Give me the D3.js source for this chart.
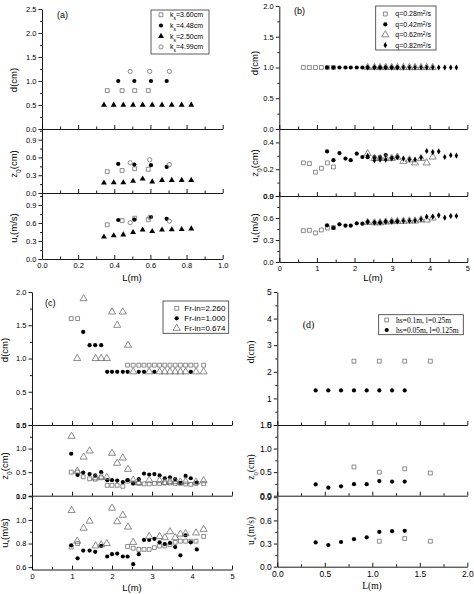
<!DOCTYPE html>
<html>
<head>
<meta charset="utf-8">
<script src="https://cdn.jsdelivr.net/npm/d3@7"></script>
<style>
  body { margin: 0; background: #fff; }
  svg { display: block; }
</style>
</head>
<body>
<svg id="chart" width="474" height="594"></svg>
<script>
// ---- panel (a): roughness height ks ----
const aL_ks360 = [0.361, 0.443, 0.513, 0.588];
const aD_ks360 = [0.8, 0.8, 0.8, 0.8];
const aZ_ks360 = [0.36, 0.38, 0.41, 0.40];
const aU_ks360 = [0.57, 0.64, 0.68, 0.655];
const aL_ks448 = [0.422, 0.511, 0.603, 0.690];
const aD_ks448 = [1.0, 1.0, 1.0, 1.0];
const aZ_ks448 = [0.49, 0.48, 0.47, 0.44];
const aU_ks448 = [0.65, 0.655, 0.70, 0.67];
const aL_ks250 = [0.343, 0.397, 0.450, 0.504, 0.557, 0.610, 0.664, 0.718, 0.773, 0.826];
const aD_ks250 = [0.5, 0.5, 0.5, 0.5, 0.5, 0.5, 0.5, 0.5, 0.5, 0.5];
const aZ_ks250 = [0.17, 0.175, 0.175, 0.20, 0.24, 0.19, 0.215, 0.215, 0.215, 0.215];
const aU_ks250 = [0.37, 0.39, 0.405, 0.445, 0.485, 0.46, 0.485, 0.49, 0.495, 0.505];
const aL_ks499 = [0.488, 0.596, 0.705];
const aD_ks499 = [1.2, 1.2, 1.2];
const aZ_ks499 = [0.51, 0.56, 0.48];
const aU_ks499 = [0.605, 0.695, 0.63];

// ---- panel (b): discharge q ----
const bL_q028 = [0.64, 0.80, 0.96, 1.12, 1.28, 1.44];
const bD_q028 = [1, 1, 1, 1, 1, 1];
const bZ_q028 = [0.247, 0.242, 0.178, 0.207, 0.247, 0.217];
const bU_q028 = [0.427, 0.432, 0.396, 0.437, 0.464, 0.47];
const bL_q042 = [1.27, 1.44, 1.60, 1.76, 1.90, 2.06, 2.21, 2.35, 2.53, 2.68, 2.83, 2.99, 3.14];
const bD_q042 = [1, 1, 1, 1, 1, 1, 1, 1, 1, 1, 1, 1, 1];
const bZ_q042 = [0.333, 0.267, 0.32, 0.279, 0.267, 0.316, 0.291, 0.29, 0.29, 0.29, 0.306, 0.286, 0.291];
const bU_q042 = [0.50, 0.464, 0.514, 0.495, 0.495, 0.528, 0.523, 0.546, 0.537, 0.537, 0.55, 0.55, 0.555];
const bL_q062 = [2.35, 2.53, 2.68, 2.83, 2.99, 3.14, 3.30, 3.46, 3.61, 3.77, 3.92, 4.08];
const bD_q062 = [1, 1, 1, 1, 1, 1, 1, 1, 1, 1, 1, 1];
const bZ_q062 = [0.316, 0.28, 0.28, 0.28, 0.28, 0.29, 0.259, 0.27, 0.247, 0.28, 0.247, 0.291];
const bU_q062 = [0.54, 0.535, 0.535, 0.545, 0.55, 0.555, 0.555, 0.56, 0.56, 0.575, 0.573, 0.60];
const bL_q082 = [2.35, 2.53, 2.68, 2.83, 2.99, 3.14, 3.30, 3.46, 3.61, 3.77, 3.92, 4.08, 4.24, 4.40, 4.56, 4.71];
const bD_q082 = [1, 1, 1, 1, 1, 1, 1, 1, 1, 1, 1, 1, 1, 1, 1, 1];
const bZ_q082 = [0.30, 0.267, 0.272, 0.272, 0.28, 0.29, 0.279, 0.272, 0.272, 0.286, 0.336, 0.328, 0.333, 0.291, 0.304, 0.301];
const bU_q082 = [0.546, 0.537, 0.537, 0.55, 0.55, 0.555, 0.56, 0.56, 0.564, 0.582, 0.618, 0.618, 0.636, 0.605, 0.627, 0.627];

// ---- panel (c): inflow Froude number ----
const cL_fr226 = [0.98, 1.14, 1.28, 1.44, 1.58, 1.73, 1.88, 2.00, 2.13, 2.27, 2.39, 2.53, 2.67, 2.80, 2.93, 3.06, 3.19, 3.32, 3.45, 3.58, 3.71, 3.84, 3.97, 4.10, 4.29];
const cD_fr226 = [1.6, 1.6, null, null, null, null, null, null, null, null, 0.9, 0.9, 0.9, 0.9, 0.9, 0.9, 0.9, 0.9, 0.9, 0.9, 0.9, 0.9, 0.9, 0.9, 0.9];
const cZ_fr226 = [0.50, 0.50, 0.40, 0.36, 0.35, 0.38, 0.22, 0.22, 0.22, 0.20, 0.31, 0.27, 0.26, 0.25, 0.25, 0.26, 0.26, 0.27, 0.27, 0.26, 0.26, 0.25, 0.24, 0.26, 0.26];
const cU_fr226 = [0.77, 0.80, null, null, null, null, null, null, null, null, 0.775, 0.76, 0.75, 0.75, 0.75, 0.765, 0.78, 0.78, 0.79, 0.81, 0.82, 0.82, 0.82, 0.82, 0.86];
const cL_fr100 = [0.98, 1.14, 1.28, 1.44, 1.58, 1.73, 1.88, 2.00, 2.13, 2.27, 2.39, 2.53, 2.67, 2.80, 2.93, 3.06, 3.19, 3.32, 3.45, 3.58, 3.71, 3.84, 3.97, 4.12];
const cD_fr100 = [null, null, 1.4, 1.2, 1.2, 1.2, 0.8, 0.8, 0.8, 0.8, 0.8, null, 0.8, 0.8, null, 0.8, null, null, null, null, null, null, 0.8, null];
const cZ_fr100 = [0.89, 0.44, 0.49, 0.46, 0.43, 0.50, 0.33, 0.33, 0.32, 0.29, 0.33, 0.26, 0.35, 0.47, 0.45, 0.46, 0.43, 0.37, 0.39, 0.35, 0.27, 0.42, 0.37, 0.28];
const cU_fr100 = [0.785, 0.675, 0.74, 0.74, 0.73, 0.78, 0.69, 0.71, 0.715, 0.69, 0.69, 0.625, 0.71, 0.83, 0.83, 0.84, 0.81, 0.795, 0.805, 0.77, 0.70, 0.87, 0.81, 0.75];
const cL_fr067 = [0.99, 1.13, 1.29, 1.44, 1.59, 1.73, 1.87, 2.00, 2.13, 2.27, 2.40, 2.53, 2.67, 2.80, 2.93, 3.06, 3.19, 3.32, 3.45, 3.58, 3.71, 3.84, 3.97, 4.10, 4.29];
const cD_fr067 = [null, 1.0, 1.9, null, 1.0, 1.0, 1.0, 1.7, 1.5, 1.7, 1.2, 0.8, null, null, 0.8, null, 0.8, 0.8, 0.8, 0.8, 0.8, 0.8, null, 0.8, 0.8];
const cZ_fr067 = [1.26, 0.52, 0.82, 0.95, 0.38, 0.40, 0.39, 0.90, 0.69, 0.80, 0.56, 0.33, 0.28, null, 0.33, null, 0.32, 0.28, 0.30, 0.30, 0.29, 0.30, null, 0.29, 0.32];
const cU_fr067 = [1.08, 0.82, 0.93, 0.99, 0.78, 0.79, 0.80, 1.10, 0.985, 1.04, 0.94, 0.81, null, null, 0.86, null, 0.86, 0.85, 0.90, 0.85, 0.88, 0.885, null, 0.89, 0.92];

// ---- panel (d): step height / spacing ----
const dL_hs010 = [0.807, 1.074, 1.341, 1.611];
const dD_hs010 = [2.4, 2.4, 2.4, 2.4];
const dZ_hs010 = [0.61, 0.50, 0.57, 0.48];
const dU_hs010 = [null, 0.33, 0.365, 0.33];
const dL_hs005 = [0.404, 0.537, 0.671, 0.807, 0.941, 1.074, 1.208, 1.341];
const dD_hs005 = [1.3, 1.3, 1.3, 1.3, 1.3, 1.3, 1.3, 1.3];
const dZ_hs005 = [0.24, 0.17, 0.20, 0.245, 0.245, 0.31, 0.30, 0.30];
const dU_hs005 = [0.315, 0.28, 0.32, 0.356, 0.38, 0.45, 0.46, 0.465];

const svg = d3.select('#chart');
const GRAY = '#6f6f6f';

// marker styles
const openSquare = { type: d3.symbolSquare, size: 15, fill: 'none', stroke: GRAY };
const dot = { type: d3.symbolCircle, size: 14, fill: '#000', stroke: 'none' };
const tri = { type: d3.symbolTriangle, size: 15, fill: '#000', stroke: 'none' };
const openCircle = { type: d3.symbolCircle, size: 14, fill: 'none', stroke: GRAY };
const openTri = { type: d3.symbolTriangle, size: 22, fill: 'none', stroke: GRAY };
const diamond = { type: d3.symbolDiamond, size: 11, fill: '#000', stroke: 'none' };

function addTitle(g, x, y, main, sub, rest, size) {
  const t = g.append('text')
    .attr('transform', `translate(${x},${y}) rotate(-90)`)
    .attr('text-anchor', 'middle')
    .style('font-size', size + 'px');
  t.append('tspan').text(main);
  if (sub) {
    t.append('tspan').attr('baseline-shift', 'sub').style('font-size', (size * 0.7) + 'px').text(sub);
  }
  t.append('tspan').text(rest);
}

function drawPanel(p) {
  const x = d3.scaleLinear().domain(p.xDomain).range(p.xRange);
  const g = svg.append('g').style('font-family', p.font);
  const x0 = p.xRange[0];

  p.rows.forEach((row, i) => {
    const y = d3.scaleLinear().domain(row.domain).range(row.range);
    const yBase = row.range[0];
    const last = i === p.rows.length - 1;

    // x axis (ticks point into the plot)
    g.append('g').attr('transform', `translate(0,${yBase})`)
      .call(d3.axisBottom(x).tickValues(p.xMinor).tickSize(-2.5).tickSizeOuter(0).tickFormat(''))
      .call(a => a.select('.domain').remove());
    const xa = g.append('g').attr('transform', `translate(0,${yBase})`)
      .call(d3.axisBottom(x).tickValues(p.xTicks).tickSize(-4).tickSizeOuter(0).tickPadding(4)
        .tickFormat(last ? d3.format(p.xFmt) : ''));
    xa.selectAll('text').style('font-size', p.tickSize + 'px').attr('fill', '#000');

    // y axis
    g.append('g').attr('transform', `translate(${x0},0)`)
      .call(d3.axisLeft(y).tickValues(row.minor).tickSize(2).tickSizeOuter(0).tickFormat(''))
      .call(a => a.select('.domain').remove());
    const ya = g.append('g').attr('transform', `translate(${x0},0)`)
      .call(d3.axisLeft(y).tickValues(row.ticks).tickSize(3.5).tickSizeOuter(0).tickPadding(2)
        .tickFormat(d3.format(row.fmt)));
    ya.selectAll('text').style('font-size', p.tickSize + 'px').attr('fill', '#000');

    g.selectAll('.domain, .tick line').attr('stroke', '#000').attr('stroke-width', 0.9);

    // markers
    p.series.forEach(s => {
      const vals = s[row.key];
      const pts = s.L.map((l, k) => [l, vals[k]]).filter(d => d[1] != null);
      g.append('g').selectAll('path').data(pts).join('path')
        .attr('transform', d => `translate(${x(d[0])},${y(d[1])})`)
        .attr('d', d3.symbol().type(s.style.type).size(s.style.size))
        .attr('fill', s.style.fill)
        .attr('stroke', s.style.stroke)
        .attr('stroke-width', 0.8);
    });

    addTitle(g, row.titleX, row.titleY, row.title[0], row.title[1], row.title[2], p.titleSize);
  });

  // x title
  g.append('text').attr('x', p.xTitle[0]).attr('y', p.xTitle[1])
    .attr('text-anchor', 'middle').style('font-size', p.titleSize + 'px').text('L(m)');

  // panel tag
  g.append('text').attr('x', p.tag[0]).attr('y', p.tag[1])
    .style('font-size', p.tagSize + 'px').text(p.tagText);

  // legend
  const lg = p.legend;
  g.append('rect').attr('x', lg.x).attr('y', lg.y).attr('width', lg.w).attr('height', lg.h)
    .attr('fill', '#fff').attr('stroke', '#333').attr('stroke-width', 0.8);
  p.series.forEach((s, k) => {
    const yy = lg.y + lg.first + k * lg.step;
    g.append('path')
      .attr('transform', `translate(${lg.x + lg.symX},${yy})`)
      .attr('d', d3.symbol().type(s.style.type).size(s.style.size))
      .attr('fill', s.style.fill).attr('stroke', s.style.stroke).attr('stroke-width', 0.8);
    const t = g.append('text').attr('x', lg.x + lg.textX).attr('y', yy)
      .attr('dy', '0.35em').style('font-size', lg.size + 'px');
    s.label.forEach(part => {
      const ts = t.append('tspan').text(part.t);
      if (part.sub) ts.attr('baseline-shift', 'sub').style('font-size', (lg.size * 0.7) + 'px');
      if (part.sup) ts.attr('baseline-shift', 'super').style('font-size', (lg.size * 0.7) + 'px');
    });
  });
}

const SANS = '"Liberation Sans", Arial, sans-serif';
const SERIF = '"Liberation Serif", "Times New Roman", serif';

drawPanel({
  font: SANS, tickSize: 7.5, titleSize: 9.5, tagSize: 9, tagText: '(a)', tag: [57, 18],
  xDomain: [0, 1], xRange: [42, 222.7], xTicks: [0, 0.2, 0.4, 0.6, 0.8, 1.0], xMinor: [0.1, 0.3, 0.5, 0.7, 0.9],
  xFmt: '.1f', xTitle: [132, 281],
  rows: [
    { key: 'D', domain: [0, 2.5], range: [129, 9], ticks: [0, 0.5, 1, 1.5, 2, 2.5], minor: [0.25, 0.75, 1.25, 1.75, 2.25], fmt: '.1f', title: ['d(cm)', '', ''], titleX: 17, titleY: 80 },
    { key: 'Z', domain: [0, 1.08], range: [193, 129], ticks: [0, 0.3, 0.6, 0.9], minor: [0.15, 0.45, 0.75, 1.05], fmt: '.1f', title: ['z', '0', '(cm)'], titleX: 17, titleY: 164 },
    { key: 'U', domain: [0, 1.1], range: [259, 193], ticks: [0, 0.3, 0.6, 0.9], minor: [0.15, 0.45, 0.75, 1.05], fmt: '.1f', title: ['u', '*', '(m/s)'], titleX: 17, titleY: 228 }
  ],
  series: [
    { L: aL_ks360, D: aD_ks360, Z: aZ_ks360, U: aU_ks360, style: openSquare, label: [{ t: 'k' }, { t: 's', sub: true }, { t: '=3.60cm' }] },
    { L: aL_ks448, D: aD_ks448, Z: aZ_ks448, U: aU_ks448, style: dot, label: [{ t: 'k' }, { t: 's', sub: true }, { t: '=4.48cm' }] },
    { L: aL_ks250, D: aD_ks250, Z: aZ_ks250, U: aU_ks250, style: tri, label: [{ t: 'k' }, { t: 's', sub: true }, { t: '=2.50cm' }] },
    { L: aL_ks499, D: aD_ks499, Z: aZ_ks499, U: aU_ks499, style: openCircle, label: [{ t: 'k' }, { t: 's', sub: true }, { t: '=4.99cm' }] }
  ],
  legend: { x: 151, y: 10, w: 58, h: 44, first: 4.8, step: 10.7, symX: 10, textX: 19, size: 7 }
});

drawPanel({
  font: SANS, tickSize: 7.5, titleSize: 9.5, tagSize: 9, tagText: '(b)', tag: [294, 14],
  xDomain: [0, 5], xRange: [279.3, 467.3], xTicks: [0, 1, 2, 3, 4, 5], xMinor: [0.5, 1.5, 2.5, 3.5, 4.5],
  xFmt: 'd', xTitle: [373, 281],
  rows: [
    { key: 'D', domain: [0, 2], range: [129, 6], ticks: [0, 0.5, 1, 1.5, 2], minor: [0.25, 0.75, 1.25, 1.75], fmt: '.1f', title: ['d(cm)', '', ''], titleX: 258, titleY: 63 },
    { key: 'Z', domain: [0, 0.5], range: [196, 129], ticks: [0, 0.2, 0.4], minor: [0.1, 0.3], fmt: '.1f', title: ['z', '0', '(cm)'], titleX: 258, titleY: 163 },
    { key: 'U', domain: [0, 0.9], range: [262, 196], ticks: [0, 0.3, 0.6, 0.9], minor: [0.15, 0.45, 0.75], fmt: '.1f', title: ['u', '*', '(m/s)'], titleX: 258, titleY: 228 }
  ],
  series: [
    { L: bL_q028, D: bD_q028, Z: bZ_q028, U: bU_q028, style: openSquare, label: [{ t: 'q=0.28m' }, { t: '2', sup: true }, { t: '/s' }] },
    { L: bL_q042, D: bD_q042, Z: bZ_q042, U: bU_q042, style: dot, label: [{ t: 'q=0.42m' }, { t: '2', sup: true }, { t: '/s' }] },
    { L: bL_q062, D: bD_q062, Z: bZ_q062, U: bU_q062, style: openTri, label: [{ t: 'q=0.62m' }, { t: '2', sup: true }, { t: '/s' }] },
    { L: bL_q082, D: bD_q082, Z: bZ_q082, U: bU_q082, style: diamond, label: [{ t: 'q=0.82m' }, { t: '2', sup: true }, { t: '/s' }] }
  ],
  legend: { x: 375.7, y: 6, w: 60.3, h: 44, first: 8, step: 10.4, symX: 9.6, textX: 19.6, size: 7 }
});

drawPanel({
  font: SANS, tickSize: 7.5, titleSize: 9.5, tagSize: 9, tagText: '(c)', tag: [45, 305.5],
  xDomain: [0, 5], xRange: [32, 232], xTicks: [0, 1, 2, 3, 4, 5], xMinor: [0.5, 1.5, 2.5, 3.5, 4.5],
  xFmt: 'd', xTitle: [132, 591],
  rows: [
    { key: 'D', domain: [0, 2], range: [425, 292], ticks: [0, 0.5, 1, 1.5, 2], minor: [0.25, 0.75, 1.25, 1.75], fmt: '.1f', title: ['d(cm)', '', ''], titleX: 8, titleY: 350 },
    { key: 'Z', domain: [0, 1.5], range: [495.7, 425], ticks: [0, 0.5, 1, 1.5], minor: [0.25, 0.75, 1.25], fmt: '.1f', title: ['z', '0', '(cm)'], titleX: 8, titleY: 466 },
    { key: 'U', domain: [0.58, 1.205], range: [569.5, 495.7], ticks: [0.6, 0.8, 1.0, 1.2], minor: [0.7, 0.9, 1.1], fmt: '.1f', title: ['u', '*', '(m/s)'], titleX: 8, titleY: 533 }
  ],
  series: [
    { L: cL_fr226, D: cD_fr226, Z: cZ_fr226, U: cU_fr226, style: openSquare, label: [{ t: 'Fr-in=2.260' }] },
    { L: cL_fr100, D: cD_fr100, Z: cZ_fr100, U: cU_fr100, style: dot, label: [{ t: 'Fr-in=1.000' }] },
    { L: cL_fr067, D: cD_fr067, Z: cZ_fr067, U: cU_fr067, style: openTri, label: [{ t: 'Fr-in=0.674' }] }
  ],
  legend: { x: 163, y: 301, w: 65.7, h: 32.3, first: 7.3, step: 10, symX: 13.7, textX: 21.3, size: 8 }
});

drawPanel({
  font: SERIF, tickSize: 8.5, titleSize: 9.5, tagSize: 10, tagText: '(d)', tag: [302.7, 327.5],
  xDomain: [0, 2], xRange: [277.3, 467.3], xTicks: [0, 0.5, 1, 1.5, 2], xMinor: [0.25, 0.75, 1.25, 1.75],
  xFmt: '.1f', xTitle: [372, 589],
  rows: [
    { key: 'D', domain: [0, 5], range: [425, 292], ticks: [0, 1, 2, 3, 4, 5], minor: [0.5, 1.5, 2.5, 3.5, 4.5], fmt: 'd', title: ['d(cm)', '', ''], titleX: 254, titleY: 352 },
    { key: 'Z', domain: [0, 1.5], range: [495.7, 425], ticks: [0, 0.5, 1, 1.5], minor: [0.25, 0.75, 1.25], fmt: '.1f', title: ['z', '0', '(cm)'], titleX: 254, titleY: 467 },
    { key: 'U', domain: [0, 0.92], range: [566.7, 495.7], ticks: [0, 0.3, 0.6, 0.9], minor: [0.15, 0.45, 0.75], fmt: '.1f', title: ['u', '*', '(m/s)'], titleX: 254, titleY: 531 }
  ],
  series: [
    { L: dL_hs010, D: dD_hs010, Z: dZ_hs010, U: dU_hs010, style: openSquare, label: [{ t: 'hs=0.1m, l=0.25m' }] },
    { L: dL_hs005, D: dD_hs005, Z: dZ_hs005, U: dU_hs005, style: dot, label: [{ t: 'hs=0.05m, l=0.125m' }] }
  ],
  legend: { x: 378.7, y: 314.7, w: 84.6, h: 20, first: 5.3, step: 10, symX: 8, textX: 17.3, size: 7.5 }
});
</script>
</body>
</html>
